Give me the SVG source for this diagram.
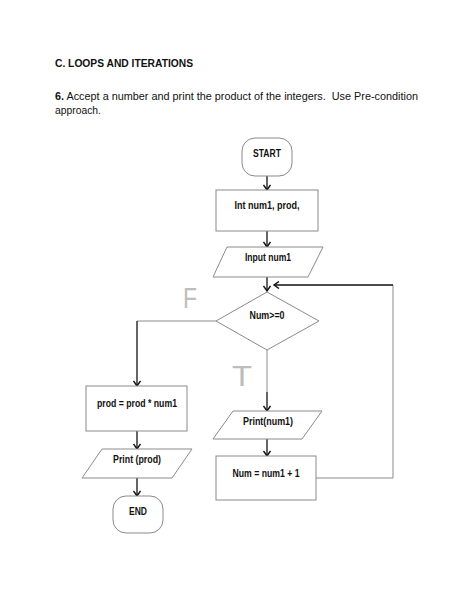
<svg xmlns="http://www.w3.org/2000/svg" width="474" height="613" viewBox="0 0 474 613">
<defs>
<style>
.shape{fill:#fff;stroke:#8a8a8a;stroke-width:1}
.lbl{font-family:"Liberation Sans",Arial,sans-serif;font-weight:bold;font-size:10.5px;fill:#111;text-anchor:middle}
.hd{font-family:"Liberation Sans",Arial,sans-serif;fill:#111}
.c{fill:none;stroke:#111;stroke-width:1.3}
.g{fill:none;stroke:#8a8a8a;stroke-width:1}
.tf{font-family:"Liberation Sans",Arial,sans-serif;font-size:30px;fill:#bdbdbd}
</style>
<marker id="ah" markerWidth="8" markerHeight="8" refX="6" refY="4" orient="auto" markerUnits="userSpaceOnUse">
<polyline points="1,0.5 6,4 1,7.5" fill="none" stroke="#111" stroke-width="1.4"/>
</marker>
</defs>
<rect width="474" height="613" fill="#fff"/>
<g id="header">
<text class="hd" x="55" y="67" font-size="11.5" font-weight="bold" textLength="138" lengthAdjust="spacingAndGlyphs">C. LOOPS AND ITERATIONS</text>
<text class="hd" x="55" y="100" font-size="11.5" textLength="363" lengthAdjust="spacingAndGlyphs"><tspan font-weight="bold">6.</tspan> Accept a number and print the product of the integers.&#160; Use Pre-condition</text>
<text class="hd" x="55" y="114" font-size="11.5" textLength="46" lengthAdjust="spacingAndGlyphs">approach.</text>
</g>
<g id="connectors">
<path class="c" d="M267,176 V190" marker-end="url(#ah)"/>
<path class="c" d="M267,231 V247" marker-end="url(#ah)"/>
<path class="c" d="M267,277 V291" marker-end="url(#ah)"/>
<path class="g" d="M316,478 H393 V285"/>
<path class="c" d="M393,285 H274" marker-end="url(#ah)"/>
<path class="g" d="M216,321 H137"/>
<path class="c" d="M137,321 V386" marker-end="url(#ah)"/>
<path class="g" d="M267,350 V392"/>
<path class="c" d="M267,392 V411" marker-end="url(#ah)"/>
<path class="c" d="M267,439 V456" marker-end="url(#ah)"/>
<path class="c" d="M137,431 V449" marker-end="url(#ah)"/>
<path class="c" d="M137,478 V496" marker-end="url(#ah)"/>
<text class="tf" x="183" y="308" textLength="14" lengthAdjust="spacingAndGlyphs">F</text>
<text class="tf" x="232" y="386" textLength="20" lengthAdjust="spacingAndGlyphs">T</text>
</g>
<g id="start">
<rect class="shape" x="242" y="138" width="50" height="38" rx="13" ry="13"/>
<text class="lbl" x="267" y="157" textLength="28" lengthAdjust="spacingAndGlyphs">START</text>
</g>
<g id="init">
<rect class="shape" x="216" y="190" width="102" height="41"/>
<text class="lbl" x="267" y="209" textLength="65" lengthAdjust="spacingAndGlyphs">Int num1, prod,</text>
</g>
<g id="input">
<polygon class="shape" points="227,247 323,247 308,277 213,277"/>
<text class="lbl" x="268" y="261" textLength="46" lengthAdjust="spacingAndGlyphs">Input num1</text>
</g>
<g id="decision">
<polygon class="shape" points="267,292 319,321 267,350 216,321"/>
<text class="lbl" x="267" y="319" textLength="35" lengthAdjust="spacingAndGlyphs">Num&gt;=0</text>
</g>
<g id="prodcalc">
<rect class="shape" x="86" y="386" width="101" height="45"/>
<text class="lbl" x="137" y="407" textLength="80" lengthAdjust="spacingAndGlyphs">prod = prod * num1</text>
</g>
<g id="printnum">
<polygon class="shape" points="233,411 322,411 302,439 213,439"/>
<text class="lbl" x="268" y="425" textLength="50" lengthAdjust="spacingAndGlyphs">Print(num1)</text>
</g>
<g id="increment">
<rect class="shape" x="216" y="456" width="100" height="44"/>
<text class="lbl" x="266" y="477" textLength="67" lengthAdjust="spacingAndGlyphs">Num = num1 + 1</text>
</g>
<g id="printprod">
<polygon class="shape" points="102,449 192,449 172,478 82,478"/>
<text class="lbl" x="137" y="463" textLength="48" lengthAdjust="spacingAndGlyphs">Print (prod)</text>
</g>
<g id="end">
<rect class="shape" x="113" y="496" width="50" height="37" rx="13" ry="13"/>
<text class="lbl" x="138" y="515" textLength="18" lengthAdjust="spacingAndGlyphs">END</text>
</g>
</svg>
